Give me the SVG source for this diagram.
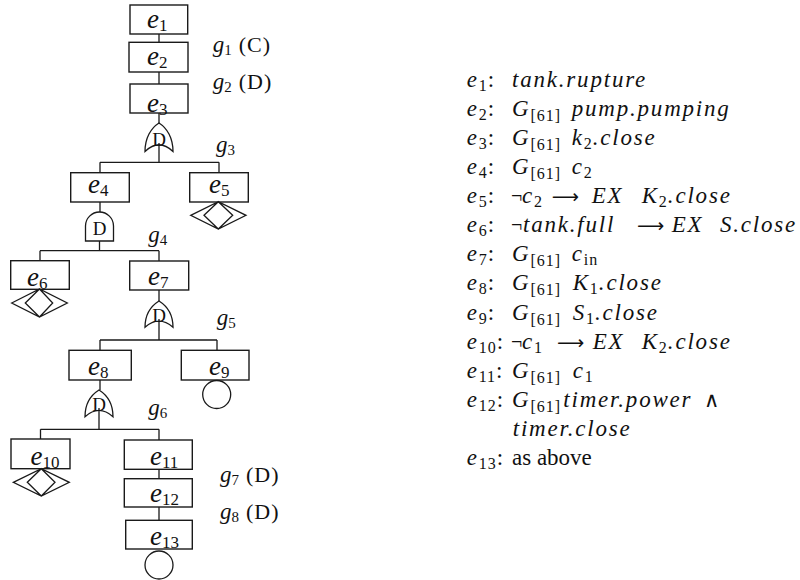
<svg xmlns="http://www.w3.org/2000/svg" width="800" height="580" viewBox="0 0 800 580">
<style>
.bx{fill:#fff;stroke:#1a1a1a;stroke-width:1.4}
.sh{fill:none;stroke:#1a1a1a;stroke-width:1.3}
.cn{fill:none;stroke:#1a1a1a;stroke-width:1.3}
text{font-family:"Liberation Serif","DejaVu Serif",serif;fill:#111}
.bl{font-size:27px;font-style:italic}
.bs{font-size:17px;font-style:normal}
.gl{font-size:23px;font-style:italic}
.gs{font-size:15px;font-style:normal}
.gr{font-size:22px;font-style:normal;letter-spacing:1px}
.gd{font-size:19px;font-style:normal;text-anchor:middle}
.lg{font-size:23px}
.i{font-style:italic;letter-spacing:1.8px}
.s{font-size:16px;font-style:normal;letter-spacing:1px}
.n{font-size:20px}
.ar{font-family:"DejaVu Sans",sans-serif;font-size:19px;font-style:normal}
.an{font-family:"DejaVu Sans",sans-serif;font-size:21px;font-style:normal}
</style>
<rect width="800" height="580" fill="#fff"/>
<g id="connectors">
<path class="cn" d="M159,34V42.3M159,72V84M159,113V123M159,143V162.3M100,162.3H219M100,162.3V172.7M219,162.3V172.7"/>
<path class="cn" d="M100,202V212M99.5,241V250.7M40,250.7H159M40,250.7V260.7M159,250.7V261"/>
<path class="cn" d="M159,290V301M159,319V340M100,340H217M100,340V350.3M217,340V350.3"/>
<path class="cn" d="M100,380V390M99,408V429.3M40.5,429.3H159M40.5,429.3V439M159,429.3V440M159,469.3V478.7M159,507V520.3"/>
</g>
<g id="e1"><rect class="bx" x="130" y="5" width="57.7" height="29"/><text class="bl" x="147" y="28.3">e<tspan class="bs" dy="3">1</tspan></text></g>
<g id="e2"><rect class="bx" x="129" y="42.3" width="59" height="29.7"/><text class="bl" x="147" y="65">e<tspan class="bs" dy="3">2</tspan></text></g>
<g id="e3"><rect class="bx" x="130" y="84" width="58" height="29"/><text class="bl" x="147" y="111.5">e<tspan class="bs" dy="3">3</tspan></text></g>
<g id="g1"><text class="gl" x="212.7" y="52">g<tspan class="gs" dy="3">1</tspan><tspan class="gr" dy="-3" dx="7">(C)</tspan></text></g>
<g id="g2"><text class="gl" x="212.7" y="89.3">g<tspan class="gs" dy="3">2</tspan><tspan class="gr" dy="-3" dx="7">(D)</tspan></text></g>
<g id="g3"><path class="sh" d="M159,123C167,128 173,138 173,151.5Q159,138 145,151.5C145,138 151,128 159,123Z"/><text class="gd" x="159" y="145.5">D</text><text class="gl" x="216" y="151.7">g<tspan class="gs" dy="3">3</tspan></text></g>
<g id="e4"><rect class="bx" x="70.7" y="172.7" width="58.6" height="29.3"/><text class="bl" x="88" y="193.3">e<tspan class="bs" dy="3">4</tspan></text></g>
<g id="e5"><rect class="bx" x="189.7" y="172.7" width="58.6" height="29.3"/><text class="bl" x="209" y="193.3">e<tspan class="bs" dy="3">5</tspan></text>
<path class="sh" d="M190.7,215.3L218.3,201.7L246,215.3L218.3,229ZM204,215.3L218.3,201.7L232.7,215.3L218.3,229Z"/></g>
<g id="g4"><path class="sh" d="M85.5,241V226A14,14 0 0 1 113.5,226V241Z"/><text class="gd" x="99.5" y="235">D</text><text class="gl" x="148.3" y="241.7">g<tspan class="gs" dy="3">4</tspan></text></g>
<g id="e6"><rect class="bx" x="10.7" y="260.7" width="58.6" height="28.6"/><text class="bl" x="27" y="286">e<tspan class="bs" dy="3">6</tspan></text>
<path class="sh" d="M11.7,303L39.5,289L67.3,303L39.5,317ZM25.3,303L39.5,289L52.7,303L39.5,317Z"/></g>
<g id="e7"><rect class="bx" x="129.7" y="261" width="59" height="29"/><text class="bl" x="148" y="285">e<tspan class="bs" dy="3">7</tspan></text></g>
<g id="g5"><path class="sh" d="M159,301C167,306 173,315 173,327.3Q159,315 145,327.3C145,315 151,306 159,301Z"/><text class="gd" x="159" y="322">D</text><text class="gl" x="216.7" y="325">g<tspan class="gs" dy="3">5</tspan></text></g>
<g id="e8"><rect class="bx" x="69" y="350.3" width="62.3" height="29.7"/><text class="bl" x="88" y="375">e<tspan class="bs" dy="3">8</tspan></text></g>
<g id="e9"><rect class="bx" x="181.3" y="350.3" width="67.7" height="29.7"/><text class="bl" x="209" y="375">e<tspan class="bs" dy="3">9</tspan></text>
<circle class="sh" cx="216.7" cy="394.5" r="14"/></g>
<g id="g6"><path class="sh" d="M99,390C107,395 113,404 113,416.7Q99,404 85,416.7C85,404 91,395 99,390Z"/><text class="gd" x="99" y="411">D</text><text class="gl" x="148.3" y="415">g<tspan class="gs" dy="3">6</tspan></text></g>
<g id="e10"><rect class="bx" x="11" y="439" width="59" height="29.7"/><text class="bl" x="30.5" y="465">e<tspan class="bs" dy="3">10</tspan></text>
<path class="sh" d="M13.3,482.3L41.3,468.7L69.3,482.3L41.3,496ZM27.3,482.3L41.3,468.7L55,482.3L41.3,496Z"/></g>
<g id="e11"><rect class="bx" x="124.3" y="440" width="68" height="29.3"/><text class="bl" x="150" y="465">e<tspan class="bs" dy="3">11</tspan></text></g>
<g id="e12"><rect class="bx" x="124.3" y="478.7" width="68" height="28.3"/><text class="bl" x="150" y="501.7">e<tspan class="bs" dy="3">12</tspan></text></g>
<g id="e13"><rect class="bx" x="125.7" y="520.3" width="66.6" height="28.7"/><text class="bl" x="150" y="545">e<tspan class="bs" dy="3">13</tspan></text>
<circle class="sh" cx="159" cy="565" r="14"/></g>
<g id="g7"><text class="gl" x="220" y="481.7">g<tspan class="gs" dy="3">7</tspan><tspan class="gr" dy="-3" dx="7">(D)</tspan></text></g>
<g id="g8"><text class="gl" x="220" y="519.3">g<tspan class="gs" dy="3">8</tspan><tspan class="gr" dy="-3" dx="7">(D)</tspan></text></g>
<g id="legend">
<text class="lg" x="466.7" y="86.7"><tspan class="i">e</tspan><tspan class="s" dy="4">1</tspan><tspan dy="-4">:</tspan><tspan class="i" x="512">tank.rupture</tspan></text>
<text class="lg" x="466.7" y="115.8"><tspan class="i">e</tspan><tspan class="s" dy="4">2</tspan><tspan dy="-4">:</tspan><tspan class="i" x="512">G</tspan><tspan class="s" dy="5">[61]</tspan><tspan class="i" dy="-5" x="571.7">pump.pumping</tspan></text>
<text class="lg" x="466.7" y="144.9"><tspan class="i">e</tspan><tspan class="s" dy="4">3</tspan><tspan dy="-4">:</tspan><tspan class="i" x="512">G</tspan><tspan class="s" dy="5">[61]</tspan><tspan class="i" dy="-5" x="571.7">k</tspan><tspan class="s" dy="4">2</tspan><tspan class="i" dy="-4">.close</tspan></text>
<text class="lg" x="466.7" y="174"><tspan class="i">e</tspan><tspan class="s" dy="4">4</tspan><tspan dy="-4">:</tspan><tspan class="i" x="512">G</tspan><tspan class="s" dy="5">[61]</tspan><tspan class="i" dy="-5" x="571.7">c</tspan><tspan class="s" dy="4">2</tspan></text>
<text class="lg" x="466.7" y="203.1"><tspan class="i">e</tspan><tspan class="s" dy="4">5</tspan><tspan dy="-4">:</tspan><tspan class="n" x="511">¬</tspan><tspan class="i" x="522">c</tspan><tspan class="s" dy="4">2</tspan><tspan class="ar" dy="-4" x="551.7">⟶</tspan><tspan class="i" x="591.7">EX</tspan><tspan class="i" x="641.7">K</tspan><tspan class="s" dy="4">2</tspan><tspan class="i" dy="-4">.close</tspan></text>
<text class="lg" x="466.7" y="232.2"><tspan class="i">e</tspan><tspan class="s" dy="4">6</tspan><tspan dy="-4">:</tspan><tspan class="n" x="511">¬</tspan><tspan class="i" x="523">tank.full</tspan><tspan class="ar" x="637">⟶</tspan><tspan class="i" x="671.7">EX</tspan><tspan class="i" x="720">S.close</tspan></text>
<text class="lg" x="466.7" y="261.3"><tspan class="i">e</tspan><tspan class="s" dy="4">7</tspan><tspan dy="-4">:</tspan><tspan class="i" x="512">G</tspan><tspan class="s" dy="5">[61]</tspan><tspan class="i" dy="-5" x="571.7">c</tspan><tspan class="s i" dy="4">in</tspan></text>
<text class="lg" x="466.7" y="290.4"><tspan class="i">e</tspan><tspan class="s" dy="4">8</tspan><tspan dy="-4">:</tspan><tspan class="i" x="512">G</tspan><tspan class="s" dy="5">[61]</tspan><tspan class="i" dy="-5" x="572.7">K</tspan><tspan class="s" dy="4">1</tspan><tspan class="i" dy="-4">.close</tspan></text>
<text class="lg" x="466.7" y="319.5"><tspan class="i">e</tspan><tspan class="s" dy="4">9</tspan><tspan dy="-4">:</tspan><tspan class="i" x="512">G</tspan><tspan class="s" dy="5">[61]</tspan><tspan class="i" dy="-5" x="572.7">S</tspan><tspan class="s" dy="4">1</tspan><tspan class="i" dy="-4">.close</tspan></text>
<text class="lg" x="466.7" y="348.6"><tspan class="i">e</tspan><tspan class="s" dy="4">10</tspan><tspan dy="-4">:</tspan><tspan class="n" x="511">¬</tspan><tspan class="i" x="522">c</tspan><tspan class="s" dy="4">1</tspan><tspan class="ar" dy="-4" x="557">⟶</tspan><tspan class="i" x="592.7">EX</tspan><tspan class="i" x="641.7">K</tspan><tspan class="s" dy="4">2</tspan><tspan class="i" dy="-4">.close</tspan></text>
<text class="lg" x="466.7" y="377.7"><tspan class="i">e</tspan><tspan class="s" dy="4">11</tspan><tspan dy="-4">:</tspan><tspan class="i" x="512">G</tspan><tspan class="s" dy="5">[61]</tspan><tspan class="i" dy="-5" x="572.7">c</tspan><tspan class="s" dy="4">1</tspan></text>
<text class="lg" x="466.7" y="406.8"><tspan class="i">e</tspan><tspan class="s" dy="4">12</tspan><tspan dy="-4">:</tspan><tspan class="i" x="512">G</tspan><tspan class="s" dy="5">[61]</tspan><tspan class="i" dy="-5" x="563.3">timer.power</tspan><tspan class="an" x="704">∧</tspan></text>
<text class="lg i" x="512.7" y="435.9">timer.close</text>
<text class="lg" x="466.7" y="465"><tspan class="i">e</tspan><tspan class="s" dy="4">13</tspan><tspan dy="-4">:</tspan><tspan x="512">as above</tspan></text>
</g>
</svg>
